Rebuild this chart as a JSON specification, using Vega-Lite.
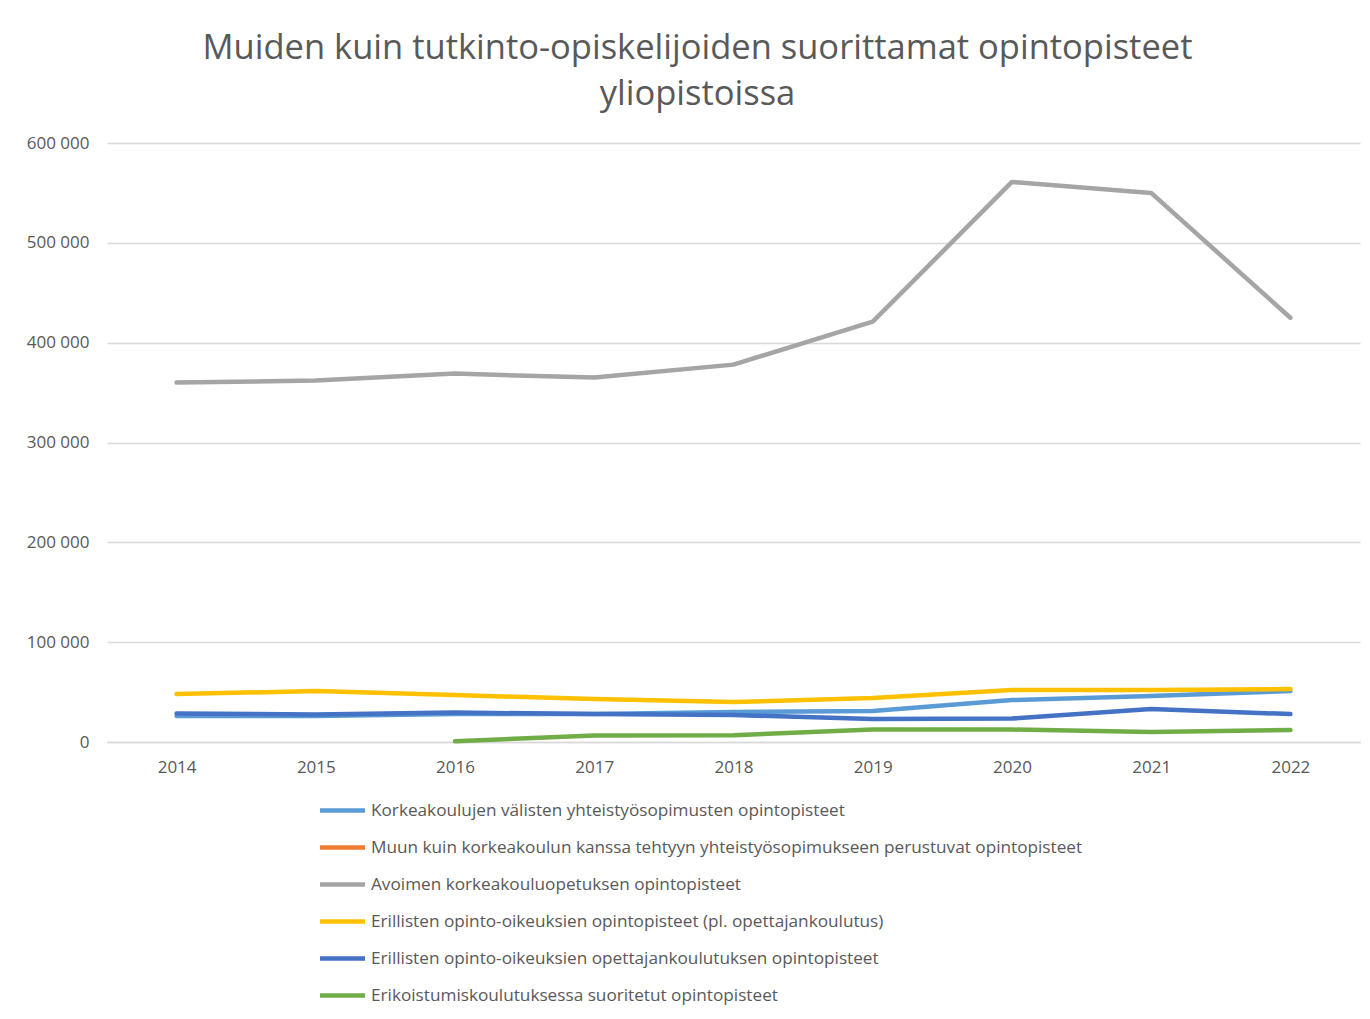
{
  "$schema": "https://vega.github.io/schema/vega-lite/v6.json",
  "autosize": {"type": "none"},
  "width": 1253,
  "height": 599,
  "padding": {"left": 107, "top": 143, "right": 10, "bottom": 277},
  "background": "white",
  "title": {
    "text": ["Muiden kuin tutkinto-opiskelijoiden suorittamat opintopisteet", "yliopistoissa"],
    "font": "Open Sans",
    "fontSize": 34.5,
    "fontWeight": "normal",
    "color": "#595959",
    "anchor": "middle",
    "dx": -36,
    "offset": 22,
    "lineHeight": 46
  },
  "data": {
    "values": [
      {"vuosi": "2014", "sarja": "Korkeakoulujen välisten yhteistyösopimusten opintopisteet", "arvo": 26000},
      {"vuosi": "2015", "sarja": "Korkeakoulujen välisten yhteistyösopimusten opintopisteet", "arvo": 26000},
      {"vuosi": "2016", "sarja": "Korkeakoulujen välisten yhteistyösopimusten opintopisteet", "arvo": 28000},
      {"vuosi": "2017", "sarja": "Korkeakoulujen välisten yhteistyösopimusten opintopisteet", "arvo": 28000},
      {"vuosi": "2018", "sarja": "Korkeakoulujen välisten yhteistyösopimusten opintopisteet", "arvo": 30000},
      {"vuosi": "2019", "sarja": "Korkeakoulujen välisten yhteistyösopimusten opintopisteet", "arvo": 31000},
      {"vuosi": "2020", "sarja": "Korkeakoulujen välisten yhteistyösopimusten opintopisteet", "arvo": 42000},
      {"vuosi": "2021", "sarja": "Korkeakoulujen välisten yhteistyösopimusten opintopisteet", "arvo": 46000},
      {"vuosi": "2022", "sarja": "Korkeakoulujen välisten yhteistyösopimusten opintopisteet", "arvo": 51000},
      {"vuosi": "2014", "sarja": "Avoimen korkeakouluopetuksen opintopisteet", "arvo": 360000},
      {"vuosi": "2015", "sarja": "Avoimen korkeakouluopetuksen opintopisteet", "arvo": 362000},
      {"vuosi": "2016", "sarja": "Avoimen korkeakouluopetuksen opintopisteet", "arvo": 369000},
      {"vuosi": "2017", "sarja": "Avoimen korkeakouluopetuksen opintopisteet", "arvo": 365000},
      {"vuosi": "2018", "sarja": "Avoimen korkeakouluopetuksen opintopisteet", "arvo": 378000},
      {"vuosi": "2019", "sarja": "Avoimen korkeakouluopetuksen opintopisteet", "arvo": 421000},
      {"vuosi": "2020", "sarja": "Avoimen korkeakouluopetuksen opintopisteet", "arvo": 561000},
      {"vuosi": "2021", "sarja": "Avoimen korkeakouluopetuksen opintopisteet", "arvo": 550000},
      {"vuosi": "2022", "sarja": "Avoimen korkeakouluopetuksen opintopisteet", "arvo": 425000},
      {"vuosi": "2014", "sarja": "Erillisten opinto-oikeuksien opintopisteet (pl. opettajankoulutus)", "arvo": 48000},
      {"vuosi": "2015", "sarja": "Erillisten opinto-oikeuksien opintopisteet (pl. opettajankoulutus)", "arvo": 51000},
      {"vuosi": "2016", "sarja": "Erillisten opinto-oikeuksien opintopisteet (pl. opettajankoulutus)", "arvo": 47000},
      {"vuosi": "2017", "sarja": "Erillisten opinto-oikeuksien opintopisteet (pl. opettajankoulutus)", "arvo": 43000},
      {"vuosi": "2018", "sarja": "Erillisten opinto-oikeuksien opintopisteet (pl. opettajankoulutus)", "arvo": 40000},
      {"vuosi": "2019", "sarja": "Erillisten opinto-oikeuksien opintopisteet (pl. opettajankoulutus)", "arvo": 44000},
      {"vuosi": "2020", "sarja": "Erillisten opinto-oikeuksien opintopisteet (pl. opettajankoulutus)", "arvo": 52000},
      {"vuosi": "2021", "sarja": "Erillisten opinto-oikeuksien opintopisteet (pl. opettajankoulutus)", "arvo": 52000},
      {"vuosi": "2022", "sarja": "Erillisten opinto-oikeuksien opintopisteet (pl. opettajankoulutus)", "arvo": 53000},
      {"vuosi": "2014", "sarja": "Erillisten opinto-oikeuksien opettajankoulutuksen opintopisteet", "arvo": 28500},
      {"vuosi": "2015", "sarja": "Erillisten opinto-oikeuksien opettajankoulutuksen opintopisteet", "arvo": 27500},
      {"vuosi": "2016", "sarja": "Erillisten opinto-oikeuksien opettajankoulutuksen opintopisteet", "arvo": 29500},
      {"vuosi": "2017", "sarja": "Erillisten opinto-oikeuksien opettajankoulutuksen opintopisteet", "arvo": 28000},
      {"vuosi": "2018", "sarja": "Erillisten opinto-oikeuksien opettajankoulutuksen opintopisteet", "arvo": 27000},
      {"vuosi": "2019", "sarja": "Erillisten opinto-oikeuksien opettajankoulutuksen opintopisteet", "arvo": 23000},
      {"vuosi": "2020", "sarja": "Erillisten opinto-oikeuksien opettajankoulutuksen opintopisteet", "arvo": 23500},
      {"vuosi": "2021", "sarja": "Erillisten opinto-oikeuksien opettajankoulutuksen opintopisteet", "arvo": 33000},
      {"vuosi": "2022", "sarja": "Erillisten opinto-oikeuksien opettajankoulutuksen opintopisteet", "arvo": 28000},
      {"vuosi": "2016", "sarja": "Erikoistumiskoulutuksessa suoritetut opintopisteet", "arvo": 700},
      {"vuosi": "2017", "sarja": "Erikoistumiskoulutuksessa suoritetut opintopisteet", "arvo": 6500},
      {"vuosi": "2018", "sarja": "Erikoistumiskoulutuksessa suoritetut opintopisteet", "arvo": 6800},
      {"vuosi": "2019", "sarja": "Erikoistumiskoulutuksessa suoritetut opintopisteet", "arvo": 12500},
      {"vuosi": "2020", "sarja": "Erikoistumiskoulutuksessa suoritetut opintopisteet", "arvo": 12500},
      {"vuosi": "2021", "sarja": "Erikoistumiskoulutuksessa suoritetut opintopisteet", "arvo": 10000},
      {"vuosi": "2022", "sarja": "Erikoistumiskoulutuksessa suoritetut opintopisteet", "arvo": 12000}
    ]
  },
  "mark": {"type": "line", "strokeWidth": 4.5, "strokeCap": "round", "strokeJoin": "round"},
  "encoding": {
    "x": {
      "field": "vuosi",
      "type": "ordinal",
      "scale": {"type": "point", "padding": 0.5},
      "axis": {
        "title": null,
        "labelAngle": 0,
        "labelFont": "Open Sans",
        "labelFontSize": 17,
        "labelColor": "#595959",
        "labelPadding": 17,
        "ticks": false,
        "domain": true,
        "domainColor": "#d9d9d9",
        "domainWidth": 1.5,
        "grid": false
      }
    },
    "y": {
      "field": "arvo",
      "type": "quantitative",
      "scale": {"domain": [0, 600000], "nice": false},
      "axis": {
        "title": null,
        "values": [0, 100000, 200000, 300000, 400000, 500000, 600000],
        "labelExpr": "replace(format(datum.value, ','), /,/g, ' ')",
        "labelFont": "Open Sans",
        "labelFontSize": 17,
        "labelColor": "#595959",
        "labelPadding": 18,
        "ticks": false,
        "domain": false,
        "grid": true,
        "gridColor": "#d9d9d9",
        "gridWidth": 1.5
      }
    },
    "color": {
      "field": "sarja",
      "type": "nominal",
      "scale": {
        "domain": [
          "Korkeakoulujen välisten yhteistyösopimusten opintopisteet",
          "Muun kuin korkeakoulun kanssa tehtyyn yhteistyösopimukseen perustuvat opintopisteet",
          "Avoimen korkeakouluopetuksen opintopisteet",
          "Erillisten opinto-oikeuksien opintopisteet (pl. opettajankoulutus)",
          "Erillisten opinto-oikeuksien opettajankoulutuksen opintopisteet",
          "Erikoistumiskoulutuksessa suoritetut opintopisteet"
        ],
        "range": ["#5b9bd5", "#ed7d31", "#a5a5a5", "#ffc000", "#4472c4", "#70ad47"]
      },
      "legend": {
        "title": null,
        "orient": "none",
        "direction": "vertical",
        "legendX": 218,
        "legendY": 650,
        "symbolType": "M-1.5,0H1.5",
        "symbolSize": 900,
        "symbolStrokeWidth": 4.5,
        "symbolFillColor": "transparent",
        "labelFont": "Open Sans",
        "labelFontSize": 17.2,
        "labelColor": "#595959",
        "labelOffset": 11,
        "rowPadding": 10,
        "labelLimit": 900
      }
    }
  },
  "config": {"view": {"stroke": null}}
}
